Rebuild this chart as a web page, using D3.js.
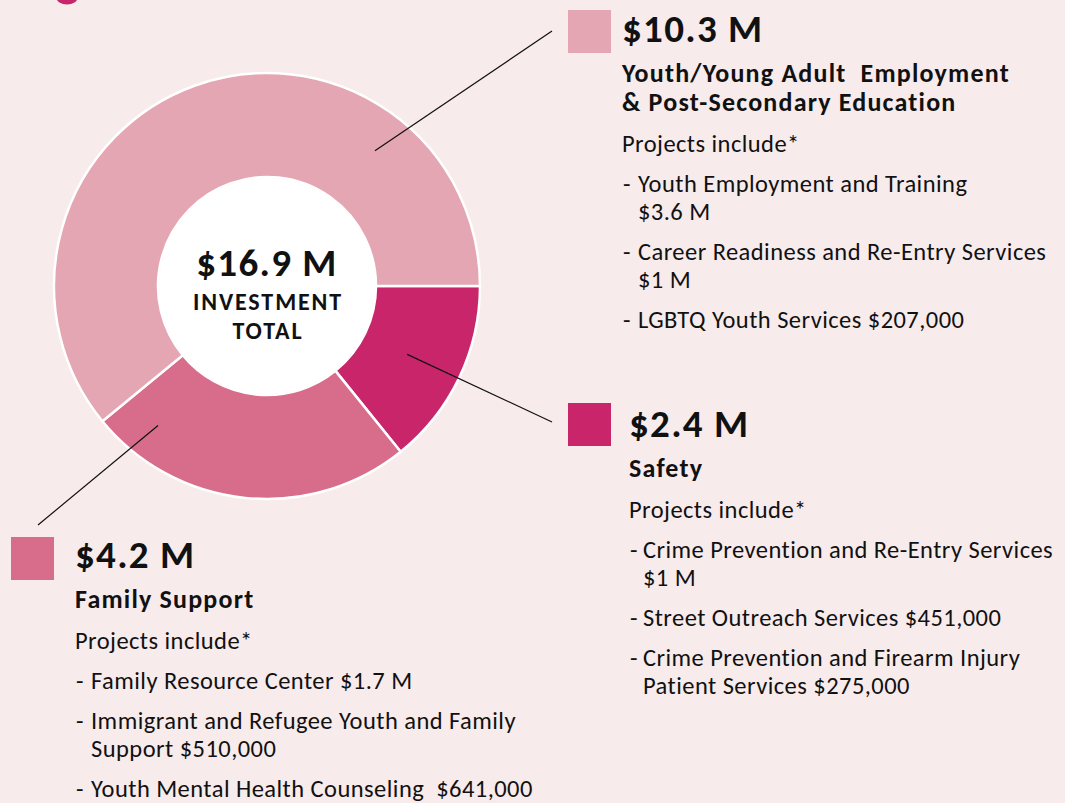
<!DOCTYPE html>
<html>
<head>
<meta charset="utf-8">
<script src="https://cdn.jsdelivr.net/npm/d3@7"></script>
<style>
  body { margin: 0; background: #f7ebec; }
  svg { display: block; font-family: Carlito, Calibri, Lato, sans-serif; }
</style>
</head>
<body>
<svg width="1065" height="803"></svg>
<script>
// data (order = clockwise from 3 o'clock)
var categories = ["Safety", "Family Support", "Youth/Young Adult Employment & Post-Secondary Education"];
var amounts = [2.4, 4.2, 10.3];
var amountLabels = ["$2.4 M", "$4.2 M", "$10.3 M"];
var colors = ["#c9256a", "#d76d8b", "#e3a6b2"];
var titleLines = [
  ["Safety"],
  ["Family Support"],
  ["Youth/Young Adult\u00a0 Employment", "& Post-Secondary Education"]
];
var projects = [
  [["Crime Prevention and Re-Entry Services", "$1 M"],
   ["Street Outreach Services $451,000"],
   ["Crime Prevention and Firearm Injury", "Patient Services $275,000"]],
  [["Family Resource Center $1.7 M"],
   ["Immigrant and Refugee Youth and Family", "Support $510,000"],
   ["Youth Mental Health Counseling\u00a0 $641,000"]],
  [["Youth Employment and Training", "$3.6 M"],
   ["Career Readiness and Re-Entry Services", "$1 M"],
   ["LGBTQ Youth Services $207,000"]]
];
var totalLabel = "$16.9 M";
var centerLines = ["INVESTMENT", "TOTAL"];

// layout
var svg = d3.select("svg");
var cx = 267, cy = 286, outerR = 213, innerR = 109;

var blocks = [
  { sx: 568, sy: 403, x: 629, y: 437, indent: 14, a: 116, r: 156, end: [552, 422] },
  { sx: 11,  sy: 537, x: 75,  y: 568, indent: 16, a: 218, r: 177, end: [38, 525] },
  { sx: 568, sy: 10,  x: 622, y: 42,  indent: 16, a: 38.6, r: 173, end: [552, 31] }
];

// bit of the heading that is cut off at the top edge
svg.append("ellipse")
  .attr("cx", 67).attr("cy", -2).attr("rx", 10.5).attr("ry", 6.5)
  .attr("fill", colors[0]);

var pie = d3.pie().sort(null).value(function(d) { return d; })
  .startAngle(Math.PI / 2).endAngle(Math.PI / 2 + 2 * Math.PI);
var arc = d3.arc().innerRadius(innerR).outerRadius(outerR);

var donut = svg.append("g").attr("transform", "translate(" + cx + "," + cy + ")");

donut.selectAll("path")
  .data(pie(amounts))
  .enter().append("path")
    .attr("d", arc)
    .attr("fill", function(d, i) { return colors[i]; })
    .attr("stroke", "#fff")
    .attr("stroke-width", 2.5);

donut.append("circle").attr("r", innerR - 1).attr("fill", "#fff");

donut.append("text")
  .attr("text-anchor", "middle").attr("y", -10)
  .attr("font-size", 39).attr("font-weight", "bold").attr("letter-spacing", 1.3)
  .attr("fill", "#111")
  .text(totalLabel);
donut.selectAll(".center")
  .data(centerLines)
  .enter().append("text")
    .attr("class", "center")
    .attr("text-anchor", "middle")
    .attr("x", 1)
    .attr("y", function(d, i) { return 24 + i * 29; })
    .attr("font-size", 24).attr("font-weight", "bold").attr("letter-spacing", 1.9)
    .attr("fill", "#111")
    .text(function(d) { return d; });

// leader lines
svg.selectAll(".leader")
  .data(blocks)
  .enter().append("line")
    .attr("class", "leader")
    .attr("x1", function(d) { return cx + d3.pointRadial(d.a * Math.PI / 180, d.r)[0]; })
    .attr("y1", function(d) { return cy + d3.pointRadial(d.a * Math.PI / 180, d.r)[1]; })
    .attr("x2", function(d) { return d.end[0]; })
    .attr("y2", function(d) { return d.end[1]; })
    .attr("stroke", "#111").attr("stroke-width", 1.2);

// legend blocks
var bodySize = 24.5, titleSize = 26, valueSize = 39;

blocks.forEach(function(b, i) {
  var g = svg.append("g").attr("fill", "#111");
  g.append("rect")
    .attr("x", b.sx).attr("y", b.sy).attr("width", 43).attr("height", 43)
    .attr("fill", colors[i]);

  g.append("text")
    .attr("x", b.x).attr("y", b.y)
    .attr("font-size", valueSize).attr("font-weight", "bold").attr("letter-spacing", 1.3)
    .text(amountLabels[i]);

  var y = b.y + 40;
  titleLines[i].forEach(function(t, k) {
    if (k > 0) y += 29;
    g.append("text")
      .attr("x", b.x).attr("y", y)
      .attr("font-size", titleSize).attr("font-weight", "bold").attr("letter-spacing", 1.2)
      .text(t);
  });

  y += 41;
  g.append("text")
    .attr("x", b.x).attr("y", y)
    .attr("font-size", bodySize).attr("letter-spacing", 0.45)
    .text("Projects include*");

  projects[i].forEach(function(item) {
    y += 40;
    g.append("text")
      .attr("x", b.x + 1).attr("y", y)
      .attr("font-size", bodySize)
      .text("-");
    item.forEach(function(line, k) {
      if (k > 0) y += 28;
      g.append("text")
        .attr("x", b.x + b.indent).attr("y", y)
        .attr("font-size", bodySize).attr("letter-spacing", 0.45)
        .text(line);
    });
  });
});
</script>
</body>
</html>
